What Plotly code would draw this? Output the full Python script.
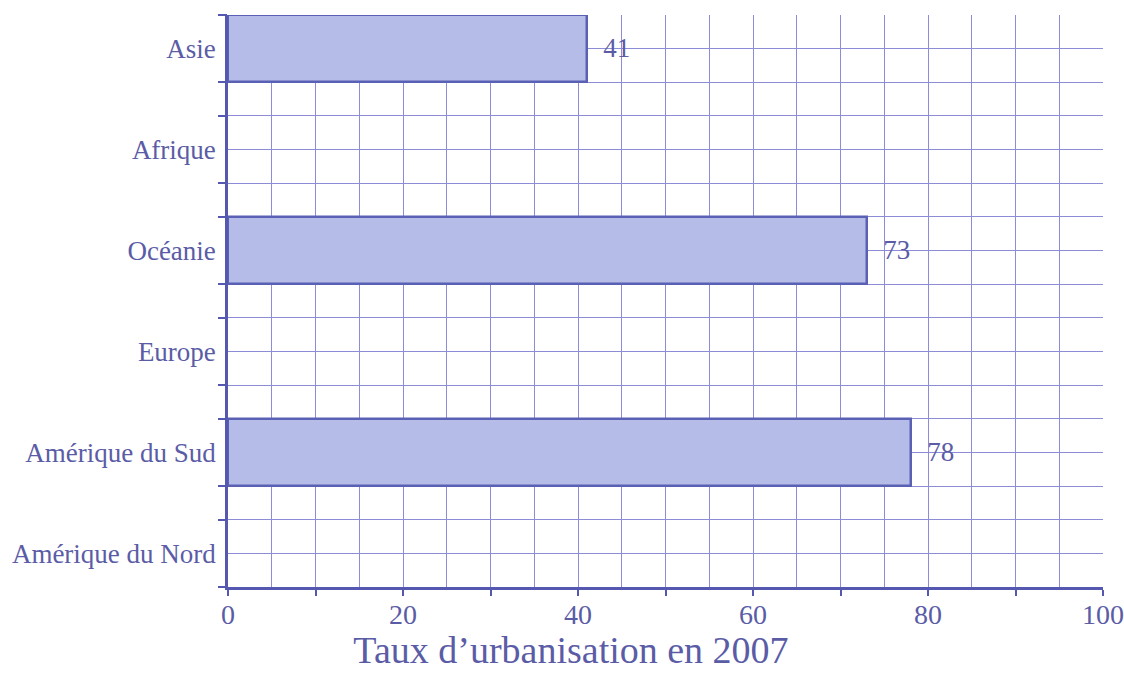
import plotly.graph_objects as go

categories = ["Asie", "Afrique", "Océanie", "Europe", "Amérique du Sud", "Amérique du Nord"]
values = [41, None, 73, None, 78, None]
x_tick_vals = [0, 10, 20, 30, 40, 50, 60, 70, 80, 90, 100]
x_tick_text = ["0", "", "20", "", "40", "", "60", "", "80", "", "100"]
title_text = "Taux d’urbanisation en 2007"

TXT = "#5b5ca6"
GRID = "#8c8cd8"
AXIS = "#5558b0"
FILL = "#b5bce7"
EDGE = "#5a60b4"
FONT = "Liberation Serif"

pos = list(range(len(categories)))
bx = [v for v in values if v is not None]
by = [p for p, v in zip(pos, values) if v is not None]

fig = go.Figure()
fig.add_trace(go.Bar(
    x=bx, y=by, orientation="h", width=0.667,
    marker=dict(color=FILL, line=dict(color=EDGE, width=2.5)),
    text=[str(v) for v in bx], texttemplate="\u00a0\u00a0%{text}",
    textposition="outside", cliponaxis=False,
    textfont=dict(family=FONT, size=27, color=TXT),
))
edge_ticks = []
for p in pos:
    edge_ticks += [p - 1/3, p + 1/3]
fig.add_trace(go.Scatter(x=[None], y=[None], yaxis="y2", showlegend=False, hoverinfo="skip"))

fig.update_layout(
    width=1124, height=678,
    margin=dict(l=228, r=21, t=15, b=91, autoexpand=False),
    paper_bgcolor="white", plot_bgcolor="white",
    showlegend=False,
    bargap=0,
    title=dict(text=title_text, x=0.508, xanchor="center", y=0.022, yanchor="bottom",
               yref="container", xref="container",
               font=dict(family=FONT, size=38, color=TXT)),
    xaxis=dict(range=[0, 100], tickvals=x_tick_vals, ticktext=x_tick_text,
               automargin=False,
               ticks="outside", ticklen=6, tickwidth=2, tickcolor=AXIS,
               showline=True, linecolor=AXIS, linewidth=2.5,
               showgrid=True, gridcolor=GRID, gridwidth=1.2,
               minor=dict(dtick=5, showgrid=True, gridcolor=GRID, gridwidth=1.2),
               zeroline=False, ticklabelstandoff=-5,
               tickfont=dict(family=FONT, size=28, color=TXT), fixedrange=True),
    yaxis=dict(range=[len(categories) - 1 + 1/3, -1/3], tickvals=pos, ticktext=categories,
               automargin=False,
               ticks="", showline=True, linecolor=AXIS, linewidth=2.5,
               showgrid=True, gridcolor=GRID, gridwidth=1.2,
               minor=dict(tick0=-1/3, dtick=1/3, showgrid=True, gridcolor=GRID, gridwidth=1.2),
               zeroline=False, ticklabelstandoff=4,
               tickfont=dict(family=FONT, size=27, color=TXT), fixedrange=True),
    yaxis2=dict(overlaying="y", side="left", range=[len(categories) - 1 + 1/3, -1/3],
                automargin=False,
                tickvals=edge_ticks, showticklabels=False, ticks="outside",
                ticklen=9, tickwidth=2, tickcolor=AXIS, showgrid=False,
                zeroline=False, showline=False, fixedrange=True),
)

fig.write_html("out.html", config={"displayModeBar": False},
               post_script="document.body.style.margin='0';document.body.style.padding='0';")
